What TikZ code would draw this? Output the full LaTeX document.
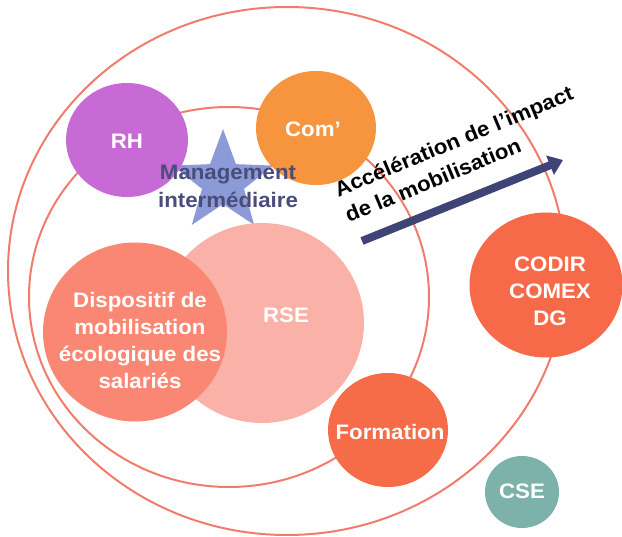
\documentclass[tikz,border=0pt]{standalone}
\usepackage{fontspec}
\setmainfont{Liberation Sans}[FakeStretch=1.06]
\usepackage{tikz}
\usetikzlibrary{shapes,arrows.meta}
\usetikzlibrary{calc}

\definecolor{ringred}{HTML}{F27C6C}
\definecolor{rhpurple}{HTML}{C86AD6}
\definecolor{comorange}{HTML}{F7943E}
\definecolor{rsepink}{HTML}{FAB2A8}
\definecolor{dispsalmon}{HTML}{FA8773}
\definecolor{codirred}{HTML}{F66A4A}
\definecolor{formred}{HTML}{F76C48}
\definecolor{csegreen}{HTML}{7CB2AA}
\definecolor{starblue}{HTML}{8C9BD7}
\definecolor{mgmtblue}{HTML}{4A4C7C}
\definecolor{arrowblue}{HTML}{3E4476}

\tikzset{
	ringline/.style={ellipse, draw=ringred, line width=2pt, inner sep=0pt},
	bubble/.style={ellipse, inner sep=0pt},
	bubbletext/.style={text=white, align=center, inner sep=0pt,
		font=\bfseries\fontsize{21}{27}\selectfont},
}

\begin{document}
\begin{tikzpicture}[x=1pt,y=-1pt]
	\useasboundingbox (0,0) rectangle (622,537);
	
	% centres of the two rings
	\coordinate (O) at (287,271);
	\coordinate (I) at (229,297);
	\node[ringline, minimum width=558pt, minimum height=528pt] (outer) at (O) {};
	\node[ringline, minimum width=400pt, minimum height=380pt] (inner) at (I) {};
	
	% star, behind RH and Com'
	\node[star, star points=5, star point ratio=2.4, fill=starblue, inner sep=0pt,
		minimum size=106pt] (star) at (223,182) {};
	
	% top bubbles
	\node[bubble, fill=rhpurple, minimum width=122pt, minimum height=114pt] (rh) at (127,140) {};
	\node[bubbletext] (rhtext) at (127,141) {RH};
	\node[bubble, fill=comorange, minimum width=120pt, minimum height=114pt] (com) at (316,128) {};
	\node[bubbletext] (comtext) at (313,129) {Com’};
	\node[text=mgmtblue, align=center, inner sep=0pt,
		font=\bfseries\fontsize{21}{28}\selectfont] (mgmt) at (228,186) {Management\\intermédiaire};
	
	% RSE and the dispositif
	\node[bubble, fill=rsepink, minimum width=204pt, minimum height=200pt] (rse) at (262,323) {};
	\node[bubble, fill=dispsalmon, minimum width=184pt, minimum height=179pt] (disp) at (135,332) {};
	\node[bubbletext] (disptext) at (140,340) {Dispositif de\\mobilisation\\écologique des\\salariés};
	\node[bubbletext] (rsetext) at (286,315) {RSE};
	
	% bubbles on the right
	\node[bubble, fill=formred, minimum width=120pt, minimum height=114pt] (form) at (388,430) {};
	\node[bubbletext] (formtext) at (390,432) {Formation};
	\node[bubble, fill=codirred, minimum width=153pt, minimum height=145pt] (codir) at (546,285) {};
	\node[bubbletext] (codirtext) at (550,291) {CODIR\\COMEX\\DG};
	\node[bubble, fill=csegreen, minimum width=74pt, minimum height=72pt] (cse) at (522,492) {};
	\node[bubbletext] (csetext) at (522,491) {CSE};
	
	% arrow
	\coordinate (tail) at (362,241);
	\coordinate (tip) at (563,160);
	\draw[arrowblue, line width=8pt, -{Triangle[length=14pt,width=20pt]}] (tail) -- (tip);
	\node[rotate=22.5, align=left, inner sep=0pt,
		font=\bfseries\fontsize{21}{28}\selectfont] (accel) at (459,154) {Accélération de l’impact\\de la mobilisation};
\end{tikzpicture}
\end{document}
